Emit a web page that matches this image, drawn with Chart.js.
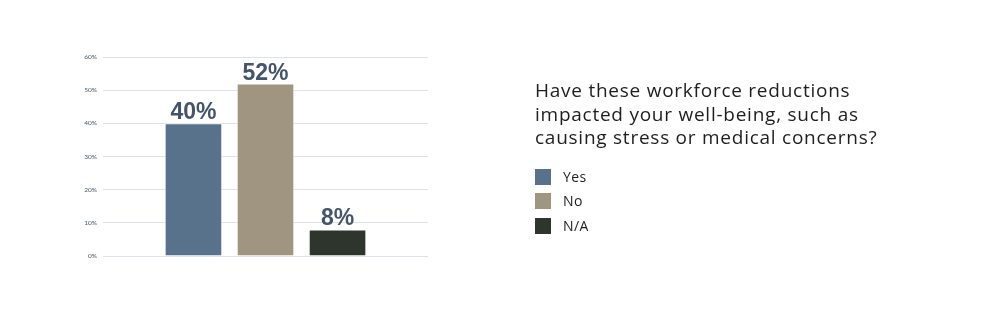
<!DOCTYPE html>
<html>
<head>
<meta charset="utf-8">
<script src="https://cdn.jsdelivr.net/npm/chart.js@4"></script>
<style>
  html, body { margin: 0; padding: 0; background: #fff; }
  #wrap { position: relative; width: 1000px; height: 323px; overflow: hidden; }
  #chart { position: absolute; left: 0; top: 0; }
  #side { position: absolute; left: 535px; top: 79px; font-family: "Open Sans", Lato, sans-serif; color: #1e1e1e; }
  #side h2 { margin: 0; font-weight: 400; font-size: 19px; line-height: 23.5px; letter-spacing: 0.75px; }
  #legend { list-style: none; margin: 19px 0 0 0; padding: 0; }
  #legend li { height: 24.5px; display: flex; align-items: flex-start; font-size: 14px; letter-spacing: 0.4px; }
  #legend span.sw { width: 16px; height: 16px; margin-right: 12px; display: inline-block; }
  #legend span.tx { line-height: 14px; padding-top: 1px; }
</style>
</head>
<body>
<div id="wrap">
  <canvas id="chart" width="1000" height="323"></canvas>
  <div id="side">
    <h2>Have these workforce reductions<br>impacted your well-being, such as<br>causing stress or medical concerns?</h2>
    <ul id="legend"></ul>
  </div>
</div>
<script>
const categories = ['Yes', 'No', 'N/A'];
const values = [40, 52, 8];
const barColors = ['#59728b', '#a09580', '#2d352d'];
const yMax = 60;
const yStep = 10;

// legend next to the question
const legendEl = document.getElementById('legend');
categories.forEach((c, i) => {
  const li = document.createElement('li');
  li.innerHTML = `<span class="sw" style="background:${barColors[i]}"></span><span class="tx">${c}</span>`;
  legendEl.appendChild(li);
});

// percentage labels above each bar
const valueLabels = {
  id: 'valueLabels',
  afterDatasetsDraw(chart) {
    const ctx = chart.ctx;
    ctx.save();
    ctx.font = 'bold 23px "Liberation Sans Narrow", "Arial Narrow", "Liberation Sans", sans-serif';
    ctx.fillStyle = '#44546a';
    ctx.textAlign = 'center';
    ctx.textBaseline = 'alphabetic';
    chart.data.datasets.forEach((ds, i) => {
      const bar = chart.getDatasetMeta(i).data[0];
      ctx.fillText(ds.data[0] + '%', bar.x, bar.y - 4);
    });
    ctx.restore();
  },
};

new Chart(document.getElementById('chart'), {
  type: 'bar',
  data: {
    labels: [''],
    datasets: categories.map((c, i) => ({
      label: c,
      data: [values[i]],
      backgroundColor: barColors[i],
      borderColor: 'rgba(255,255,255,0.6)',
      borderWidth: 1,
      barPercentage: 0.8,
      categoryPercentage: 0.665,
    })),
  },
  options: {
    responsive: false,
    animation: false,
    layout: { padding: { left: 0, right: 572, top: 57, bottom: 67 } },
    plugins: { legend: { display: false }, tooltip: { enabled: false } },
    scales: {
      x: { display: false },
      y: {
        min: 0,
        max: yMax,
        afterFit: s => { s.width = 103; },
        border: { display: false },
        grid: { color: '#dde2ea', drawTicks: false, lineWidth: 1 },
        ticks: {
          stepSize: yStep,
          padding: 6,
          color: '#44546a',
          font: { size: 6.5, family: 'Lato, sans-serif' },
          callback: v => v + '%',
        },
      },
    },
  },
  plugins: [valueLabels],
});
</script>
</body>
</html>
